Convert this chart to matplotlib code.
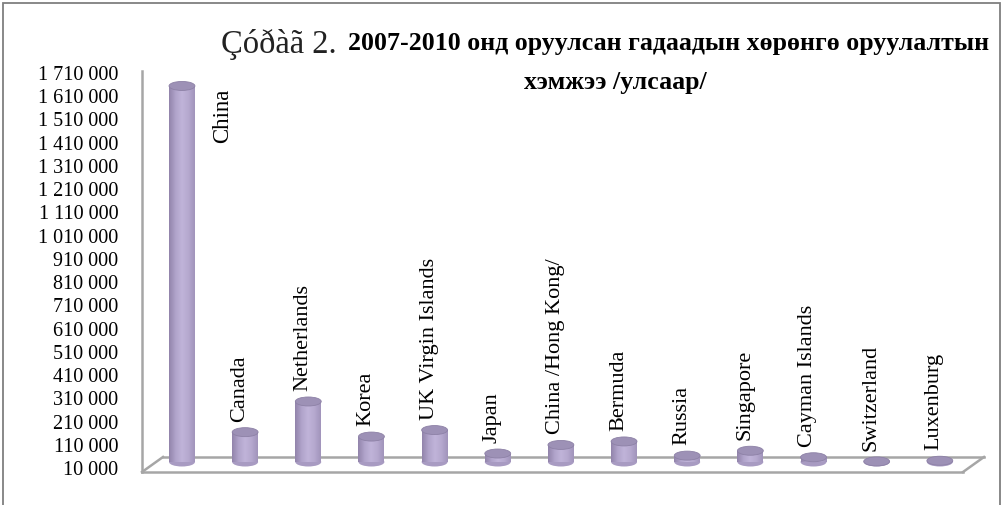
import numpy as np
import matplotlib.pyplot as plt
from matplotlib.patches import Ellipse, Rectangle
from matplotlib.lines import Line2D
from matplotlib.colors import LinearSegmentedColormap
from matplotlib.ticker import FuncFormatter

countries = ["China", "Canada", "Netherlands", "Korea", "UK Virgin Islands", "Japan",
             "China /Hong Kong/", "Bermuda", "Russia", "Singapore", "Cayman Islands",
             "Switzerland", "Luxenburg"]
values = [1650000, 160000, 292000, 141000, 169000, 68000, 105000,
          120000, 59000, 80000, 52000, 34000, 37000]
y_ticks = list(range(10000, 1710001, 100000))
base = 31500

plt.rcParams['font.family'] = ['Liberation Serif', 'DejaVu Serif']

W, H = 1002, 506
fig = plt.figure(figsize=(W / 100, H / 100), dpi=100)


def fx(px):
    return px / W


def fy(py):
    return 1 - py / H


# outer frame of the picture
fig.add_artist(Rectangle((fx(3), fy(520)), fx(997), 516 / H, transform=fig.transFigure,
                         fill=False, edgecolor='#7f7f7f', lw=1.3))

ax = fig.add_axes([fx(142), fy(468), fx(821), 395 / H])
ax.set_xlim(-0.633, 12.367)
ax.set_ylim(10000, 1710000)
for s in ax.spines.values():
    s.set_visible(False)

# 3d floor + left wall line
grey = '#a6a6a6'
ff, fb, dx = -5 / 395, 10 / 395, 21 / 821
floor = [((0, 1), (ff, ff)), ((dx, 1 + dx), (fb, fb)), ((0, dx), (ff, fb)),
         ((1, 1 + dx), (ff, fb)), ((0, 0), (ff, 1.002))]
for xs, ys in floor:
    ax.add_line(Line2D(xs, ys, transform=ax.transAxes, color=grey, lw=1.8, clip_on=False, zorder=1))

cmap = LinearSegmentedColormap.from_list('cyl', ['#9284ab', '#b0a3ca', '#c0b4d9', '#b6a9cf', '#a194bb'])
grad = np.linspace(0, 1, 64).reshape(1, -1)

w = 0.41
eh = 9 / 395 * 1700000
x = np.arange(len(countries))
bars = ax.bar(x, np.array(values) - base, bottom=base, width=w, color='#b0a3ca', lw=0, zorder=3)
for xi, v, b in zip(x, values, bars):
    ax.add_patch(Ellipse((xi, base), w, eh, facecolor='#a89bc2', edgecolor='none', zorder=2))
    im = ax.imshow(grad, cmap=cmap, aspect='auto', extent=[xi - w / 2, xi + w / 2, base, v],
                   zorder=3.5, interpolation='bilinear')
    im.set_clip_path(b)
    ax.add_patch(Ellipse((xi, v), w, eh, facecolor='#9d91b6', edgecolor='#8d81a6', lw=0.6, zorder=4))

ax.set_xlim(-0.633, 12.367)
ax.set_ylim(10000, 1710000)

# category labels
for xi, v, name in zip(x, values, countries):
    if xi == 0:
        ax.annotate(name, (xi, v), xytext=(29, -1), textcoords='offset points', rotation=90,
                    ha='center', va='top', fontsize=16.5)
    else:
        ax.annotate(name, (xi, v + eh / 2), xytext=(-4, 5), textcoords='offset points',
                    rotation=90, ha='center', va='bottom', fontsize=16)

ax.set_xticks([])
ax.set_yticks(y_ticks)
ax.yaxis.set_major_formatter(FuncFormatter(lambda v, p: f"{int(v):,}".replace(",", " ")))
ax.tick_params(axis='y', length=0, pad=17, labelsize=14.5)

fig.text(fx(221), fy(44), "Çóðàã 2.", fontsize=23.5, va='center', ha='left', color='#222222')
fig.text(fx(348), fy(44), "2007-2010 онд оруулсан гадаадын хөрөнгө оруулалтын",
         fontsize=18.6, fontweight='bold', va='center', ha='left')
fig.text(fx(615), fy(83), "хэмжээ /улсаар/", fontsize=18.6, fontweight='bold',
         va='center', ha='center')

fig.savefig('out.png', dpi=100)
